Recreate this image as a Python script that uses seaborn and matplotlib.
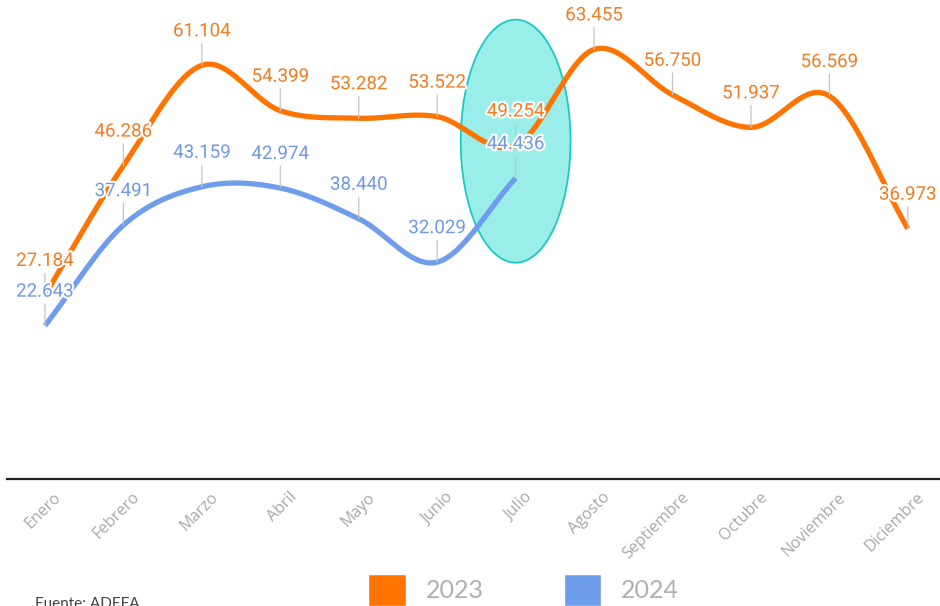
import numpy as np
import pandas as pd
import seaborn as sns
from matplotlib import pyplot as plt
from matplotlib.patches import Ellipse, Patch
from matplotlib.transforms import ScaledTranslation
import matplotlib.patheffects as pe

meses = ['Enero', 'Febrero', 'Marzo', 'Abril', 'Mayo', 'Junio', 'Julio',
         'Agosto', 'Septiembre', 'Octubre', 'Noviembre', 'Diciembre']
ventas_2023 = [27.184, 46.286, 61.104, 54.399, 53.282, 53.522, 49.254,
               63.455, 56.750, 51.937, 56.569, 36.973]
ventas_2024 = [22.643, 37.491, 43.159, 42.974, 38.440, 32.029, 44.436]

color_2023 = '#ff7400'
color_2024 = '#6d9deb'
texto_2023 = '#ef7d22'
texto_2024 = '#6f99e0'


def suavizar(valores, n=30):
    # curva tipo spline (hermite / catmull-rom) solo para dibujar la linea
    p = np.array(valores, dtype=float)
    m = np.zeros_like(p)
    m[1:-1] = (p[2:] - p[:-2]) / 2
    m[0] = p[1] - p[0]
    m[-1] = p[-1] - p[-2]
    xs, ys = [], []
    for i in range(len(p) - 1):
        t = np.linspace(0, 1, n, endpoint=False)
        h00 = 2 * t**3 - 3 * t**2 + 1
        h10 = t**3 - 2 * t**2 + t
        h01 = -2 * t**3 + 3 * t**2
        h11 = t**3 - t**2
        xs.extend(i + t)
        ys.extend(h00 * p[i] + h10 * m[i] + h01 * p[i + 1] + h11 * m[i + 1])
    xs.append(len(p) - 1)
    ys.append(p[-1])
    return xs, ys


frames = []
for serie, vals in [('2023', ventas_2023), ('2024', ventas_2024)]:
    xs, ys = suavizar(vals)
    frames.append(pd.DataFrame({'x': xs, 'y': ys, 'serie': serie}))
df = pd.concat(frames, ignore_index=True)

sns.set_style('white')
plt.rcParams['font.family'] = ['Roboto', 'DejaVu Sans']

fig = plt.figure(figsize=(9.4, 6.06), dpi=100)
ax = fig.add_axes([7 / 940, 1 - 479 / 606, 933 / 940, 479 / 606])

ax.add_patch(Ellipse((6, 49.9), 1.40, 35.9, facecolor='#9aeee9',
                     edgecolor='#1cc8c2', lw=1.3, zorder=1))

sns.lineplot(data=df, x='x', y='y', hue='serie', sort=False, legend=False,
             palette={'2023': color_2023, '2024': color_2024},
             lw=3.8, ax=ax, zorder=2)
for l in ax.lines:
    l.set_solid_capstyle('butt')

halo = [pe.withStroke(linewidth=3, foreground='white')]
for vals, col in [(ventas_2023, texto_2023), (ventas_2024, texto_2024)]:
    for i, v in enumerate(vals):
        ax.annotate(f'{v:.3f}', xy=(i, v), xytext=(0, 34),
                    textcoords='offset pixels', ha='center', va='center',
                    fontsize=13.5, color=col, path_effects=halo, zorder=5,
                    arrowprops=dict(arrowstyle='-', color='#c4c4c4', lw=0.9,
                                    relpos=(0.5, 0), shrinkA=0, shrinkB=0))

ax.set_xlim(-0.484, 11.41)
ax.set_ylim(0, 70.75)
ax.set_xticks(range(len(meses)))
ax.set_xticklabels([])
# etiquetas de meses giradas, corridas un poco a la derecha del tick
tr = ax.get_xaxis_transform() + ScaledTranslation(14 / 100, -16 / 100,
                                                   fig.dpi_scale_trans)
for i, m in enumerate(meses):
    ax.text(i, 0, m, transform=tr, rotation=45, ha='right', va='center',
            rotation_mode='anchor', fontsize=11.5, color='#a8a8a8',
            family=['Open Sans', 'DejaVu Sans'], clip_on=False)
ax.tick_params(axis='x', length=0)
ax.set_yticks([])
ax.set_xlabel('')
ax.set_ylabel('')
for s in ['top', 'left', 'right']:
    ax.spines[s].set_visible(False)
ax.spines['bottom'].set_color('#222222')
ax.spines['bottom'].set_linewidth(1.6)

handles = [Patch(facecolor=color_2023, label='2023'),
           Patch(facecolor=color_2024, label='2024')]
leg = fig.legend(handles=handles, loc='upper left',
                 bbox_to_anchor=(368 / 940, 1 - 574 / 606), ncol=2,
                 frameon=False, fontsize=18, handlelength=1.5,
                 handleheight=1.6, handletextpad=0.8, columnspacing=3.2,
                 borderpad=0, borderaxespad=0)
for t in leg.get_texts():
    t.set_color('#b0b0b0')
    t.set_fontfamily(['Lato', 'DejaVu Sans'])

fig.text(35 / 940, 1 - 597 / 606, 'Fuente: ADEFA', fontsize=11,
         color='#444444', va='top', family=['Lato', 'DejaVu Sans'])

fig.savefig('out.png', dpi=100, facecolor='white')
